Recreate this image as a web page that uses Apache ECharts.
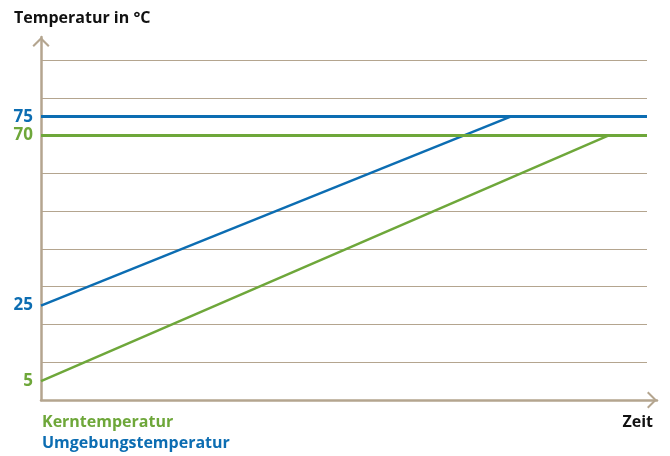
<!DOCTYPE html>
<html>
<head>
<meta charset="utf-8">
<script src="https://cdn.jsdelivr.net/npm/echarts@6/dist/echarts.min.js"></script>
<style>html,body{margin:0;padding:0;background:#fff}#c{width:670px;height:456px}</style>
</head>
<body>
<div id="c"></div>
<script>
// Data (time in % of visible span, temperature in °C)
var seriesNames = ['Kerntemperatur', 'Umgebungstemperatur'];
var kernTime = [0, 93.6];
var kernTemp = [5, 70];
var kernLevel = 70;
var umgTime = [0, 77.5];
var umgTemp = [25, 75];
var umgLevel = 75;
var yLabelValues = [5, 25, 70, 75];
var titleText = 'Temperatur in °C';
var xName = 'Zeit';

var GREEN = '#6ea73a';
var BLUE = '#0c6db2';
var TAN = '#b4a58f';
var FONT = 'Open Sans';

function pairs(xs, ys) { return xs.map(function (x, i) { return [x, ys[i]]; }); }
var chevron = 'path://M0,10 L10,0 L20,10 L18.3,11.7 L10,3.4 L1.7,11.7 Z';
function levelLine(v, color) {
  return {silent: true, symbol: 'none', label: {show: false},
          lineStyle: {color: color, width: 3, type: 'solid'},
          data: [{yAxis: v}]};
}

var chart = echarts.init(document.getElementById('c'));
chart.setOption({
  animation: false,
  textStyle: {fontFamily: FONT},
  title: [
    {text: titleText, left: 9, top: 5, textStyle: {fontFamily: FONT, fontSize: 16, fontWeight: 'bold', color: '#111'}},
    {text: xName, right: 12, top: 409, textStyle: {fontFamily: FONT, fontSize: 16, fontWeight: 'bold', color: '#111'}}
  ],
  legend: {
    orient: 'vertical', left: 32, top: 409, itemWidth: 0, itemHeight: 0, itemGap: 5,
    selectedMode: false,
    data: [
      {name: seriesNames[0], icon: 'none', textStyle: {color: GREEN}},
      {name: seriesNames[1], icon: 'none', textStyle: {color: BLUE}}
    ],
    textStyle: {fontFamily: FONT, fontSize: 16, fontWeight: 'bold'}
  },
  grid: [
    {left: 41, right: 23, top: 60, bottom: 56},
    {left: 41, right: 13, top: 37, bottom: 56}
  ],
  xAxis: [
    {gridIndex: 0, type: 'value', min: 0, max: 100, show: true,
     axisLine: {show: false}, axisTick: {show: false}, axisLabel: {show: false}, splitLine: {show: false}},
    {gridIndex: 1, type: 'value', min: 0, max: 1,
     axisLine: {show: true, symbol: ['none', chevron], symbolSize: [18, 10], symbolOffset: [0, -5],
                lineStyle: {color: TAN, width: 2.5}},
     axisTick: {show: false}, axisLabel: {show: false}, splitLine: {show: false}}
  ],
  yAxis: [
    {gridIndex: 0, type: 'value', min: 0, max: 90, interval: 10,
     axisLine: {show: false}, axisTick: {show: false},
     splitLine: {show: true, lineStyle: {color: TAN, width: 1}},
     axisLabel: {show: true, customValues: yLabelValues, margin: 8,
                 fontFamily: FONT, fontSize: 17, fontWeight: 'bold',
                 formatter: function (v) { return '{c' + v + '|' + v + '}'; },
                 rich: {
                   c5: {color: GREEN, fontFamily: FONT, fontSize: 17, fontWeight: 'bold'},
                   c25: {color: BLUE, fontFamily: FONT, fontSize: 17, fontWeight: 'bold'},
                   c70: {color: GREEN, fontFamily: FONT, fontSize: 17, fontWeight: 'bold'},
                   c75: {color: BLUE, fontFamily: FONT, fontSize: 17, fontWeight: 'bold'}
                 }}},
    {gridIndex: 1, type: 'value', min: 0, max: 1,
     axisLine: {show: true, symbol: ['none', chevron], symbolSize: [18, 10], symbolOffset: [0, -5],
                lineStyle: {color: TAN, width: 2.5}},
     axisTick: {show: false}, axisLabel: {show: false}, splitLine: {show: false}}
  ],
  series: [
    {name: seriesNames[0], type: 'line', xAxisIndex: 0, yAxisIndex: 0, data: pairs(kernTime, kernTemp),
     symbol: 'none', lineStyle: {color: GREEN, width: 2.5}, itemStyle: {color: GREEN}, z: 3,
     markLine: levelLine(kernLevel, GREEN)},
    {name: seriesNames[1], type: 'line', xAxisIndex: 0, yAxisIndex: 0, data: pairs(umgTime, umgTemp),
     symbol: 'none', lineStyle: {color: BLUE, width: 2.5}, itemStyle: {color: BLUE}, z: 4,
     markLine: levelLine(umgLevel, BLUE)}
  ]
});
</script>
</body>
</html>
